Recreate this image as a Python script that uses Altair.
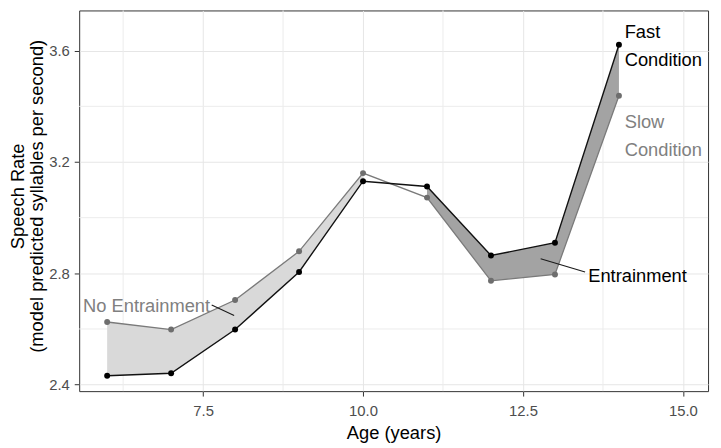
import altair as alt
import pandas as pd

# ---- data ----
ages = [6, 7, 8, 9, 10, 11, 12, 13, 14]
fast_rate = [2.432, 2.441, 2.598, 2.805, 3.131, 3.112, 2.864, 2.910, 3.621]
slow_rate = [2.625, 2.598, 2.704, 2.879, 3.160, 3.072, 2.773, 2.796, 3.438]

x_ticks = [7.5, 10.0, 12.5, 15.0]
y_ticks = [2.4, 2.8, 3.2, 3.6]
x_minor = [6.25, 8.75, 11.25, 13.75]
y_minor = [2.6, 3.0, 3.4]

black_labels = ["Fast", "Condition", "Entrainment"]
black_label_x = [14.09, 14.09, 13.52]
black_label_y = [3.645, 3.546, 2.769]
gray_labels = ["Slow", "Condition", "No Entrainment"]
gray_label_x = [14.09, 14.09, 5.624]
gray_label_y = [3.323, 3.223, 2.660]

pointer_x = [12.776, 7.634]
pointer_y = [2.852, 2.686]
pointer_x2 = [13.471, 7.985]
pointer_y2 = [2.805, 2.648]

# ---- tables ----
wide = pd.DataFrame({"age": ages, "fast": fast_rate, "slow": slow_rate})
long = pd.concat([
    pd.DataFrame({"age": ages, "rate": fast_rate, "cond": "Fast"}),
    pd.DataFrame({"age": ages, "rate": slow_rate, "cond": "Slow"}),
])
black_df = pd.DataFrame({"t": black_labels, "x": black_label_x, "y": black_label_y})
gray_df = pd.DataFrame({"t": gray_labels, "x": gray_label_x, "y": gray_label_y})
seg_df = pd.DataFrame({"x": pointer_x, "y": pointer_y, "x2": pointer_x2, "y2": pointer_y2})
xminor_df = pd.DataFrame({"v": x_minor})
yminor_df = pd.DataFrame({"v": y_minor})

FONT = "Liberation Sans"
xscale = alt.Scale(domain=[5.563, 15.393], nice=False, zero=False)
yscale = alt.Scale(domain=[2.3766, 3.7445], nice=False, zero=False)

x_axis = alt.Axis(
    values=x_ticks, format=".1f", title="Age (years)",
    labelFontSize=15, labelColor="#4d4d4d", labelPadding=8,
    tickSize=5, tickColor="#333333", domain=False,
    grid=True, gridColor="#e6e6e6", gridWidth=1,
    titleFontSize=18.5, titleFontWeight="normal", titleColor="#000000",
    titleX=318, titleY=48, titleBaseline="alphabetic", titleAlign="center",
)
y_axis = alt.Axis(
    values=y_ticks, format=".1f",
    title=["Speech Rate", "(model predicted syllables per second)"],
    labelFontSize=15, labelColor="#4d4d4d", labelPadding=5,
    tickSize=5, tickColor="#333333", domain=False,
    grid=True, gridColor="#e6e6e6", gridWidth=1,
    titleFontSize=18.5, titleFontWeight="normal", titleColor="#000000",
    titleX=-56, titleY=187.5, titleAngle=270, titleBaseline="alphabetic",
    titleAlign="center", titleLineHeight=18.5,
)

xminor = alt.Chart(xminor_df).mark_rule(color="#ececec", strokeWidth=1).encode(
    x=alt.X("v:Q", scale=xscale, axis=x_axis)
)
yminor = alt.Chart(yminor_df).mark_rule(color="#ececec", strokeWidth=1).encode(
    y=alt.Y("v:Q", scale=yscale, axis=y_axis)
)

light = alt.Chart(wide).transform_filter("datum.age <= 10").mark_area(
    color="#d9d9d9", opacity=1
).encode(
    x=alt.X("age:Q", scale=xscale),
    y=alt.Y("slow:Q", scale=yscale),
    y2="fast:Q",
)
dark = alt.Chart(wide).transform_filter("datum.age >= 11").mark_area(
    color="#a3a3a3", opacity=1
).encode(
    x=alt.X("age:Q", scale=xscale),
    y=alt.Y("slow:Q", scale=yscale),
    y2="fast:Q",
)

slow_line = alt.Chart(long).transform_filter("datum.cond == 'Slow'").mark_line(
    color="#7a7a7a", strokeWidth=1.3
).encode(x=alt.X("age:Q", scale=xscale), y=alt.Y("rate:Q", scale=yscale))
fast_line = alt.Chart(long).transform_filter("datum.cond == 'Fast'").mark_line(
    color="#111111", strokeWidth=1.4
).encode(x=alt.X("age:Q", scale=xscale), y=alt.Y("rate:Q", scale=yscale))
slow_pts = alt.Chart(long).transform_filter("datum.cond == 'Slow'").mark_circle(
    color="#6e6e6e", size=36, opacity=1
).encode(x=alt.X("age:Q", scale=xscale), y=alt.Y("rate:Q", scale=yscale))
fast_pts = alt.Chart(long).transform_filter("datum.cond == 'Fast'").mark_circle(
    color="#000000", size=36, opacity=1
).encode(x=alt.X("age:Q", scale=xscale), y=alt.Y("rate:Q", scale=yscale))

segs = alt.Chart(seg_df).mark_rule(color="#1a1a1a", strokeWidth=1.1).encode(
    x=alt.X("x:Q", scale=xscale), y=alt.Y("y:Q", scale=yscale), x2="x2:Q", y2="y2:Q"
)
black_txt = alt.Chart(black_df).mark_text(
    align="left", baseline="alphabetic", fontSize=18.5, font=FONT, color="#000000"
).encode(x=alt.X("x:Q", scale=xscale), y=alt.Y("y:Q", scale=yscale), text="t:N")
gray_txt = alt.Chart(gray_df).mark_text(
    align="left", baseline="alphabetic", fontSize=18.5, font=FONT, color="#808080"
).encode(x=alt.X("x:Q", scale=xscale), y=alt.Y("y:Q", scale=yscale), text="t:N")

chart = alt.layer(
    xminor, yminor, light, dark, slow_line, fast_line, slow_pts, fast_pts,
    segs, black_txt, gray_txt,
).properties(
    width=636, height=385,
    autosize=alt.AutoSizeParams(type="none"),
    padding={"left": 72, "top": 0, "right": 5, "bottom": 53},
    background="#ffffff",
).configure(font=FONT).configure_view(
    stroke="#333333", strokeWidth=1
)

chart.save("out.html", embed_options={"renderer": "svg", "actions": False})
